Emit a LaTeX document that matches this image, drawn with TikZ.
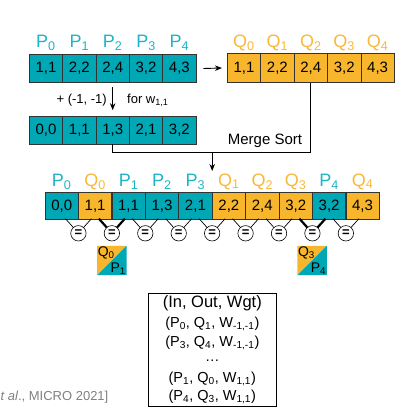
\documentclass[tikz,border=0pt]{standalone}
\usepackage{fontspec}
\setmainfont{Liberation Sans}
\usetikzlibrary{arrows.meta}
\definecolor{tealc}{HTML}{00A7B5}
\definecolor{orangec}{HTML}{F8B62D}
\definecolor{tealL}{HTML}{1DB4C4}
\definecolor{orangeL}{HTML}{F8B83A}
\newcommand{\sbs}[1]{\textsubscript{#1}}
\begin{document}
\begin{tikzpicture}[x=1pt,y=-1pt,
  cell/.style={draw=black!80, line width=0.7pt, minimum width=33.4pt, minimum height=28pt, inner sep=0pt, font=\fontsize{15}{15}\selectfont},
  pc/.style={cell, fill=tealc}, qc/.style={cell, fill=orangec},
  labP/.style={text=tealL, font=\fontsize{18}{18}\selectfont, inner sep=0pt},
  labQ/.style={text=orangeL, font=\fontsize{18}{18}\selectfont, inner sep=0pt},
  arr/.style={-{Stealth[length=7pt,width=5.5pt]}, line width=0.9pt},
  eqc/.style={circle, draw, fill=white, minimum size=15.4pt, inner sep=0pt, line width=0.6pt, font=\fontsize{13}{13}\selectfont\bfseries},
  eql/.style={line width=0.7pt},
  eqb/.style={line width=2.2pt},
  boxtxt/.style={font=\fontsize{14.5}{14.5}\selectfont, inner sep=0pt, text height=10.5pt, text depth=3pt},
]
\useasboundingbox (0,0) rectangle (416,412);
% top P array
\foreach \v [count=\i from 0] in {{1,1},{2,2},{2,4},{3,2},{4,3}} {
  \node[pc, minimum height=28.7pt] (p\i) at ({46+33.34*\i},68.5) {\v};
  \node[labP] (pl\i) at ({46+33.34*\i},43) {P\sbs{\i}};
}
% top Q array
\foreach \v [count=\i from 0] in {{1,1},{2,2},{2,4},{3,2},{4,3}} {
  \node[qc, minimum height=29pt] (q\i) at ({244+33.4*\i},68) {\v};
  \node[labQ] (ql\i) at ({244+33.4*\i},43) {Q\sbs{\i}};
}
% shifted P array
\foreach \v [count=\i from 0] in {{0,0},{1,1},{1,3},{2,1},{3,2}} {
  \node[pc, minimum height=27.5pt] (r\i) at ({46+33.34*\i},130.3) {\v};
}
% merged array
\foreach \n/\k/\v/\s [count=\i from 0] in {P/0/{0,0}/pc, Q/0/{1,1}/qc, P/1/{1,1}/pc, P/2/{1,3}/pc, P/3/{2,1}/pc, Q/1/{2,2}/qc, Q/2/{2,4}/qc, Q/3/{3,2}/qc, P/4/{3,2}/pc, Q/4/{4,3}/qc} {
  \node[\s, minimum height=27pt] (m\i) at ({61.7+33.43*\i},205.8) {\v};
  \node[lab\n] (ml\i) at ({61.7+33.43*\i},181.7) {\n\sbs{\k}};
}
% arrows
\draw[arr] ([xshift=7pt]p4.east) -- ([xshift=-5pt]q0.west);
\draw[arr, shorten <=4pt, shorten >=6pt] (p2.south) -- (r2.north);
\node[anchor=east, font=\fontsize{13}{13}\selectfont, inner sep=0pt] (shiftlbl) at (107,100) {+ (-1, -1)};
\node[anchor=west, font=\fontsize{13}{13}\selectfont, inner sep=0pt] (forlbl) at (127,100) {for w\sbs{1,1}};
\coordinate (c1) at (112.6,152.7);
\draw[line width=0.9pt] (r2.south) |- (q2.south |- c1) -- (q2.south);
\coordinate (ms) at (212.2,152.7);
\coordinate (mt) at (212.2,171);
\draw[arr] (ms) -- (mt);
\node[font=\fontsize{15}{15}\selectfont, inner sep=0pt] (mslbl) at (265,141) {Merge Sort};
% comparators
\foreach \k in {1,...,9} {
  \pgfmathsetmacro{\ex}{45+33.43*\k}
  \ifnum\k=2 \def\ls{eqb}\else\ifnum\k=8 \def\ls{eqb}\else\def\ls{eql}\fi\fi
  \draw[\ls] (\ex,233.3) -- ++(-7.6,-8.6) -- ++(-5.4,-6);
  \draw[\ls] (\ex,233.3) -- ++(7.6,-8.6) -- ++(5.4,-6);
  \node[eqc] (e\k) at (\ex,233.3) {=};
}
% result squares
\foreach \j/\cx/\a/\b in {1/111.8/0/1, 2/312.1/3/4} {
  \node[minimum size=29pt, inner sep=0pt] (s\j) at (\cx,260.5) {};
  \fill[orangec] (s\j.north west) -- (s\j.north east) -- (s\j.south west) -- cycle;
  \fill[tealc] (s\j.north east) -- (s\j.south east) -- (s\j.south west) -- cycle;
  \node[anchor=north west, inner sep=0.5pt, font=\fontsize{14}{14}\selectfont] (sq\j) at (s\j.north west) {Q\sbs{\a}};
  \node[anchor=south east, inner sep=0.5pt, font=\fontsize{14}{14}\selectfont] (sp\j) at (s\j.south east) {P\sbs{\b}};
}
% table box
\node[draw, line width=0.8pt, minimum width=127.3pt, minimum height=112.7pt, inner sep=0pt] (box) at (212.3,349.7) {};
\node[font=\fontsize{16.5}{16.5}\selectfont, inner sep=0pt] (b1) at (212.3,303) {(In, Out, Wgt)};
\node[boxtxt] (b2) at (212.3,324) {(P\sbs{0}, Q\sbs{1}, W\sbs{-1,-1})};
\node[boxtxt] (b3) at (212.3,342.7) {(P\sbs{3}, Q\sbs{4}, W\sbs{-1,-1})};
\node[boxtxt, text height=2pt, text depth=0pt] (b4) at (212.3,360) {…};
\node[boxtxt] (b5) at (212.3,379) {(P\sbs{1}, Q\sbs{0}, W\sbs{1,1})};
\node[boxtxt] (b6) at (212.3,396.7) {(P\sbs{4}, Q\sbs{3}, W\sbs{1,1})};
% citation
\node[anchor=west, text=black!50, font=\fontsize{13}{13}\selectfont, inner sep=0pt] (cite) at (0.5,397) {\textit{t al}., MICRO 2021]};
\end{tikzpicture}
\end{document}
